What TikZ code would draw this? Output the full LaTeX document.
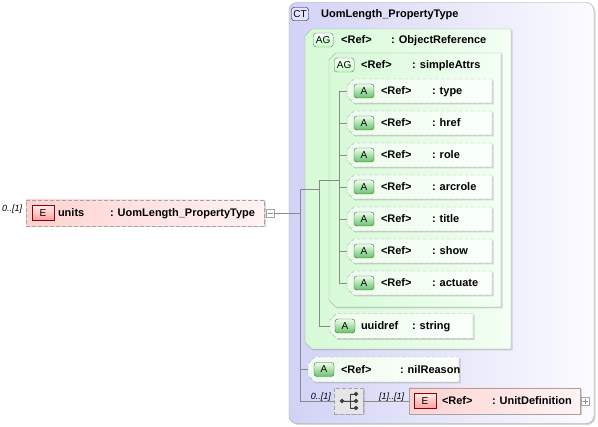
\documentclass[tikz,border=0pt]{standalone}
\usepackage{fontspec}
\setmainfont{Liberation Sans}
\usetikzlibrary{shapes.misc,shadows,positioning}

\definecolor{ctL}{HTML}{D2D2F6}
\definecolor{ctR}{HTML}{FBFBFF}
\definecolor{agL}{HTML}{D6FAD6}
\definecolor{agR}{HTML}{F3FFF3}
\definecolor{elL}{HTML}{FFD2D2}
\definecolor{elR}{HTML}{FFF3F3}
\definecolor{attrL}{HTML}{EEFCEE}
\definecolor{attrR}{HTML}{FBFFFB}
\definecolor{edgegray}{HTML}{A4A4A4}
\definecolor{linegray}{HTML}{8A8A8A}
\definecolor{compfill}{HTML}{E6E6E6}
\definecolor{abtop}{HTML}{EEFFEE}
\definecolor{abbot}{HTML}{66C266}
\definecolor{abedge}{HTML}{3A5A3A}

\tikzset{
  boxshadow/.style={drop shadow={shadow xshift=1.5pt,shadow yshift=-1.5pt,opacity=.35,fill=black!45}},
  ctbox/.style={draw=edgegray,rounded corners=8pt,left color=ctL,right color=ctR,boxshadow},
  grpbox/.style={chamfered rectangle,chamfered rectangle corners={north west,south west},
    chamfered rectangle xsep=11pt,chamfered rectangle ysep=11pt,
    draw=edgegray,left color=agL,right color=agR,boxshadow},
  attrbox/.style={chamfered rectangle,chamfered rectangle corners={north west,south west},
    chamfered rectangle xsep=6pt,chamfered rectangle ysep=6pt,
    draw=edgegray,dash pattern=on 4pt off 2pt,left color=attrL,right color=attrR,boxshadow},
  elbox/.style={draw=edgegray,left color=elL,right color=elR,boxshadow},
  compbox/.style={draw=edgegray,dash pattern=on 4pt off 2pt,fill=compfill,boxshadow,minimum width=29pt,minimum height=26pt},
  lbl/.style={font=\fontsize{11}{13}\selectfont\bfseries,inner sep=0pt,text height=8pt,text depth=0pt,anchor=west},
  mult/.style={font=\fontsize{9}{11}\selectfont\itshape,inner sep=0pt,text height=7pt,text depth=0pt},
  badge/.style={font=\fontsize{10}{11}\selectfont,inner sep=0pt,text height=7pt,text depth=0pt},
  ebadge/.style={badge,draw=red!55!black,top color=red!8,bottom color=red!38,minimum width=22pt,minimum height=15pt},
  abadge/.style={badge,rounded corners=3pt,draw=abedge,top color=abtop,bottom color=abbot,
    minimum width=20pt,minimum height=14pt},
  agbadge/.style={badge,rounded corners=3pt,draw=black!55,top color=green!3,bottom color=green!22,
    minimum width=20pt,minimum height=14pt},
  ctbadge/.style={badge,draw=blue!30!black,fill=blue!10,rounded corners=2.5pt,minimum width=17pt,minimum height=13pt},
  expbox/.style={draw=edgegray,fill=white,minimum width=8pt,minimum height=8pt},
  link/.style={draw=linegray,line width=0.6pt},
  icon/.style={draw=black!75,fill=black!75,line width=0.8pt}
}

\begin{document}
\begin{tikzpicture}[x=1pt,y=-1pt]
\useasboundingbox (0,0) rectangle (598,427);

% complex type frame
\node[ctbox,minimum width=305pt,minimum height=421pt] (ct) at (441.5,213) {};
\node[ctbadge] (ctb) at (300,14) {CT};
\node[lbl] (ctname) at (321,14) {UomLength\_PropertyType};

% attribute group ObjectReference
\node[grpbox,minimum width=206pt,minimum height=320pt] (objref) at (408,189) {};
\node[agbadge,anchor=west] (objrefb) at (313,40) {AG};
\node[lbl] (objrefr) at (341,40) {<Ref>};
\node[lbl] (objreft) at (391,40) {: ObjectReference};

% attribute group simpleAttrs
\node[grpbox,minimum width=172pt,minimum height=254pt] (attrs) at (415,180) {};
\node[agbadge,anchor=west] (attrsb) at (334,65) {AG};
\node[lbl] (attrsr) at (361,65) {<Ref>};
\node[lbl] (attrst) at (412,65) {: simpleAttrs};

\foreach \t [count=\n] in {type,href,role,arcrole,title,show,actuate}{
  \node[attrbox,minimum width=145pt,minimum height=24pt] (a\n) at (419.5,{91+32*(\n-1)}) {};
  \node[abadge,anchor=west] (ab\n) at ([xshift=7pt]a\n.west) {A};
  \node[lbl] (ar\n) at ([xshift=34pt]a\n.west) {<Ref>};
  \node[lbl] (at\n) at ([xshift=85pt]a\n.west) {: \t};
}

% uuidref
\node[attrbox,minimum width=143pt,minimum height=25pt] (uuid) at (401.5,326) {};
\node[abadge,anchor=west] (uuidb) at ([xshift=5pt]uuid.west) {A};
\node[lbl] (uuidr) at ([xshift=31pt]uuid.west) {uuidref};
\node[lbl] (uuidt) at ([xshift=82pt]uuid.west) {: string};

% nilReason
\node[attrbox,minimum width=151pt,minimum height=25pt] (nil) at (383.5,369.5) {};
\node[abadge,anchor=west] (nilb) at ([xshift=6pt]nil.west) {A};
\node[lbl] (nilr) at ([xshift=33pt]nil.west) {<Ref>};
\node[lbl] (nilt) at ([xshift=92pt]nil.west) {: nilReason};

% choice compositor
\node[compbox] (comp) at (348.5,401) {};
\draw[icon] ([xshift=-6.5pt]comp.center) -- ([xshift=1.5pt]comp.center);
\draw[icon] ([xshift=1.5pt,yshift=7pt]comp.center) -- ([xshift=1.5pt,yshift=-7pt]comp.center);
\fill[icon] ([xshift=-6.5pt]comp.center) circle (1.7pt);
\foreach \dy in {-7,0,7}{
  \draw[icon] ([xshift=1.5pt,yshift=\dy pt]comp.center) -- ([xshift=7.5pt,yshift=\dy pt]comp.center);
  \fill[icon] ([xshift=7.5pt,yshift=\dy pt]comp.center) circle (1.7pt);
}
\node[mult,anchor=east] (compm) at (331,396) {0..[1]};
\node[mult,anchor=west] (defm) at (379,396) {[1]..[1]};

% UnitDefinition
\node[elbox,minimum width=171pt,minimum height=26pt] (unitdef) at (494.5,401) {};
\node[ebadge,anchor=west] (unitdefb) at ([xshift=5pt]unitdef.west) {E};
\node[lbl] (unitdefr) at ([xshift=33pt]unitdef.west) {<Ref>};
\node[lbl] (unitdeft) at ([xshift=83pt]unitdef.west) {: UnitDefinition};
\node[expbox] (defexp) at (585,401.5) {};
\draw[linegray,line width=0.6pt] ([xshift=-2.5pt]defexp.center) -- ([xshift=2.5pt]defexp.center)
  ([yshift=-2.5pt]defexp.center) -- ([yshift=2.5pt]defexp.center);

% units element
\node[elbox,dash pattern=on 4pt off 2pt,minimum width=238pt,minimum height=26pt] (units) at (145,213) {};
\node[ebadge,anchor=west] (unitsb) at ([xshift=6pt]units.west) {E};
\node[lbl] (unitsr) at ([xshift=32pt]units.west) {units};
\node[lbl] (unitst) at ([xshift=84pt]units.west) {: UomLength\_PropertyType};
\node[mult,anchor=west] (unitsm) at (2,208) {0..[1]};
\node[expbox] (unitsexp) at (270,213) {};
\draw[linegray,line width=0.6pt] ([xshift=-2.5pt]unitsexp.center) -- ([xshift=2.5pt]unitsexp.center);

% connectors
\coordinate (j1) at ([xshift=-5pt]objref.west);
\coordinate (j2) at ([xshift=-10pt]attrs.west);
\coordinate (j3) at ([xshift=10pt]attrs.west);
\draw[link] (unitsexp.east) -- (unitsexp.east -| j1);
\draw[link] (j1) -- (j1 |- comp.west) -- (comp.west);
\draw[link] (j1 |- nil.west) -- (nil.west);
\draw[link] (j1) -- (j1 -| j2);
\draw[link] (j2) -- (j2 |- uuid.west) -- (uuid.west);
\draw[link] (j2) -- (j3);
\draw[link] (j3 |- a1.west) -- (j3 |- a7.west);
\foreach \n in {1,...,7}
  \draw[link] (j3 |- a\n.west) -- (a\n.west);
\draw[link] (comp.east) -- (unitdef.west);
\end{tikzpicture}
\end{document}
